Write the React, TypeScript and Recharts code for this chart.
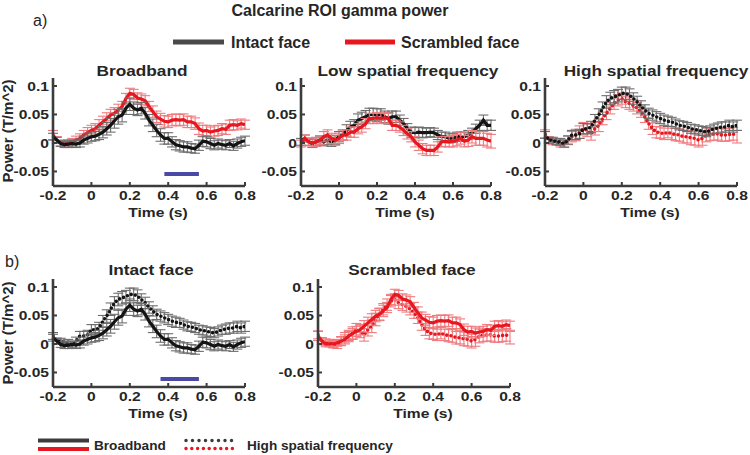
import React from 'react';
import { ComposedChart, Line, XAxis, YAxis, ErrorBar, ReferenceArea } from 'recharts';

const FONT = '"Liberation Sans", Arial, Helvetica, sans-serif';
const TXT = '#262626';
const BLACK = '#141414';
const GRAYERR = '#6e6e6e';
const RED = '#e8161f';
const REDERR = '#f07a7e';
const BLUE = '#4a4aa6';

const times = [-0.2,-0.18,-0.16,-0.14,-0.12,-0.1,-0.08,-0.06,-0.04,-0.02,0,0.02,0.04,0.06,0.08,0.1,0.12,0.14,0.16,0.18,0.2,0.22,0.24,0.26,0.28,0.3,0.32,0.34,0.36,0.38,0.4,0.42,0.44,0.46,0.48,0.5,0.52,0.54,0.56,0.58,0.6,0.62,0.64,0.66,0.68,0.7,0.72,0.74,0.76,0.78,0.8];

const broadbandIntact = [0.011,0.005,-0.001,-0.003,-0.002,-0.001,-0.002,0,0.005,0.008, 0.011,0.012,0.015,0.019,0.025,0.031,0.039,0.046,0.049,0.061, 0.068,0.061,0.058,0.061,0.052,0.04,0.031,0.022,0.014,0.008, 0.008,0.002,-0.003,-0.005,-0.007,-0.007,-0.009,-0.01,-0.004,0.003, 0.002,-0.001,-0.004,-0.001,-0.003,-0.004,-0.001,-0.005,-0.001,0.002,0.004];
const broadbandIntactErr = [0.006,0.005,0.005,0.005,0.006,0.006,0.006,0.007,0.007,0.008, 0.008,0.008,0.009,0.010,0.011,0.012,0.013,0.013,0.012,0.011, 0.011,0.011,0.010,0.010,0.010,0.010,0.011,0.011,0.011,0.010, 0.010,0.009,0.009,0.009,0.009,0.009,0.008,0.008,0.009,0.009, 0.009,0.009,0.008,0.008,0.008,0.008,0.007,0.008,0.008,0.008,0.008];
const broadbandScr = [0.014,0.005,0,0,0,0.002,0.005,0.008,0.014,0.018, 0.022,0.025,0.031,0.037,0.043,0.049,0.052,0.058,0.064,0.078, 0.087,0.085,0.079,0.077,0.074,0.064,0.055,0.046,0.042,0.038, 0.037,0.040,0.041,0.040,0.041,0.037,0.037,0.034,0.025,0.021, 0.022,0.019,0.021,0.022,0.025,0.024,0.031,0.032,0.031,0.034,0.032];
const broadbandScrErr = [0.008,0.006,0.005,0.005,0.006,0.006,0.007,0.008,0.008,0.009, 0.009,0.009,0.010,0.010,0.010,0.010,0.010,0.010,0.009,0.009, 0.009,0.009,0.009,0.009,0.009,0.009,0.010,0.010,0.010,0.010, 0.010,0.010,0.010,0.010,0.010,0.010,0.010,0.010,0.010,0.010, 0.009,0.009,0.009,0.009,0.009,0.009,0.009,0.009,0.008,0.008,0.008];

const lowIntact = [0.002,0.008,0.002,-0.001,0.002,0.005,0.002,0.005,0.002,0.005, 0.011,0.014,0.022,0.028,0.031,0.04,0.043,0.046,0.05,0.05, 0.049,0.05,0.046,0.043,0.046,0.046,0.04,0.034,0.025,0.019, 0.018,0.019,0.018,0.018,0.019,0.018,0.014,0.011,0.011,0.008, 0.009,0.011,0.011,0.011,0.014,0.018,0.025,0.031,0.04,0.031,0.031];
const lowIntactErr = [0.006,0.006,0.006,0.007,0.007,0.007,0.007,0.008,0.008,0.008, 0.009,0.009,0.010,0.010,0.010,0.011,0.011,0.011,0.011,0.011, 0.011,0.010,0.010,0.010,0.010,0.010,0.009,0.009,0.009,0.009, 0.009,0.009,0.009,0.008,0.008,0.008,0.008,0.008,0.008,0.008, 0.008,0.008,0.008,0.008,0.008,0.008,0.008,0.009,0.009,0.009,0.009];
const lowScr = [-0.001,0.008,0.002,0,0.002,0.005,0.011,0.014,0.008,0.005, 0.008,0.014,0.014,0.019,0.019,0.025,0.028,0.034,0.043,0.043, 0.044,0.043,0.044,0.043,0.031,0.031,0.028,0.022,0.016,0.011, 0.002,-0.004,-0.01,-0.013,-0.013,-0.013,-0.007,0.002,0.003,0.002, 0.003,0.005,0.008,0.003,0.005,0.011,0.008,0.008,0.008,0.005,0.003];
const lowScrErr = [0.006,0.006,0.007,0.007,0.008,0.008,0.009,0.009,0.009,0.009, 0.009,0.009,0.009,0.009,0.009,0.009,0.009,0.009,0.009,0.009, 0.009,0.009,0.009,0.009,0.009,0.009,0.009,0.009,0.009,0.009, 0.009,0.009,0.009,0.009,0.009,0.009,0.009,0.009,0.009,0.009, 0.010,0.010,0.010,0.010,0.011,0.011,0.012,0.012,0.012,0.012,0.012];

const highIntact = [0.014,0.005,0.005,0.002,0.002,-0.001,0.005,0.014,0.014,0.016, 0.025,0.025,0.028,0.04,0.049,0.061,0.072,0.078,0.081,0.083, 0.087,0.087,0.084,0.078,0.072,0.064,0.058,0.052,0.049,0.046, 0.043,0.040,0.038,0.037,0.034,0.031,0.030,0.028,0.025,0.024, 0.022,0.021,0.019,0.022,0.025,0.026,0.028,0.028,0.031,0.028,0.031];
const highIntactErr = [0.006,0.005,0.005,0.005,0.006,0.006,0.007,0.008,0.008,0.008, 0.009,0.009,0.010,0.010,0.011,0.011,0.011,0.011,0.011,0.011, 0.011,0.011,0.011,0.010,0.010,0.010,0.009,0.009,0.009,0.009, 0.009,0.009,0.009,0.008,0.008,0.008,0.008,0.008,0.008,0.008, 0.008,0.008,0.008,0.008,0.008,0.009,0.009,0.009,0.009,0.009,0.009];
const highScr = [0.016,0.005,0.003,0.002,-0.001,-0.001,0.005,0.011,0.014,0.019, 0.025,0.022,0.016,0.025,0.031,0.043,0.052,0.061,0.069,0.075, 0.078,0.072,0.069,0.066,0.061,0.055,0.046,0.034,0.025,0.019, 0.018,0.016,0.019,0.016,0.015,0.014,0.011,0.011,0.009,0.008, 0.005,0.008,0.014,0.015,0.016,0.016,0.014,0.014,0.015,0.016,0.011];
const highScrErr = [0.007,0.006,0.006,0.006,0.006,0.007,0.008,0.009,0.010,0.011, 0.011,0.011,0.011,0.011,0.011,0.011,0.011,0.010,0.010,0.010, 0.010,0.010,0.010,0.010,0.010,0.010,0.010,0.010,0.010,0.010, 0.010,0.010,0.010,0.010,0.011,0.011,0.011,0.011,0.012,0.012, 0.012,0.012,0.012,0.011,0.011,0.011,0.011,0.011,0.011,0.011,0.011];

const xTicks = [-0.2, 0, 0.2, 0.4, 0.6, 0.8];
const yTicks = [-0.05, 0, 0.05, 0.1];
const signifA = [0.38, 0.56];
const signifB = [0.36, 0.56];

const data = times.map((t, i) => ({
  t,
  bbI: broadbandIntact[i], bbIe: broadbandIntactErr[i],
  bbS: broadbandScr[i], bbSe: broadbandScrErr[i],
  lsfI: lowIntact[i], lsfIe: lowIntactErr[i],
  lsfS: lowScr[i], lsfSe: lowScrErr[i],
  hsfI: highIntact[i], hsfIe: highIntactErr[i],
  hsfS: highScr[i], hsfSe: highScrErr[i],
}));

const YDOM = [-0.0755, 0.114];
const PLOT_H = 108;
const SX = 1.2;

const XTick = (props: any) => {
  const { x, y, payload } = props;
  return (
    <text transform={`translate(${x},${y + 10}) scale(${SX},1)`} textAnchor="middle" fontSize={13} fontWeight="bold" fill={TXT} fontFamily={FONT}>
      {String(payload.value)}
    </text>
  );
};
const YTick = (props: any) => {
  const { x, y, payload } = props;
  return (
    <text transform={`translate(${x},${y + 4.6}) scale(${SX},1)`} textAnchor="end" fontSize={13} fontWeight="bold" fill={TXT} fontFamily={FONT}>
      {String(payload.value)}
    </text>
  );
};

function Panel({ left, top, width, children }: any) {
  const svgW = width + 70;
  const svgH = PLOT_H + 40;
  return (
    <div style={{ position: 'absolute', left: left - 50, top: top - 10 }}>
      <ComposedChart width={svgW} height={svgH} data={data} margin={{ top: 10, right: 20, bottom: 0, left: 0 }}>
        <XAxis dataKey="t" type="number" domain={[-0.2, 0.8]} ticks={xTicks} height={30}
          axisLine={{ stroke: '#3c3c3c', strokeWidth: 2.6 }} tickLine={{ stroke: '#3c3c3c', strokeWidth: 2 }}
          tickSize={-4} tickMargin={8} tick={<XTick />} interval={0} allowDataOverflow />
        <YAxis type="number" domain={YDOM} ticks={yTicks} width={50}
          axisLine={{ stroke: '#3c3c3c', strokeWidth: 2.6 }} tickLine={{ stroke: '#3c3c3c', strokeWidth: 2 }}
          tickSize={-4} tickMargin={8} tick={<YTick />} interval={0} allowDataOverflow />
        {children}
      </ComposedChart>
    </div>
  );
}

const solid = (key: string, color: string, errColor: string) => (
  <Line key={key} type="linear" dataKey={key} stroke={color} strokeWidth={3.2} dot={false} isAnimationActive={false}>
    <ErrorBar dataKey={key + 'e'} width={5} stroke={errColor} strokeWidth={1.1} />
  </Line>
);
const dotted = (key: string, color: string, errColor: string) => (
  <Line key={key} type="linear" dataKey={key} stroke={color} strokeWidth={3.6} strokeDasharray="0 4.2" strokeLinecap="round" dot={false} isAnimationActive={false}>
    <ErrorBar dataKey={key + 'e'} width={5} stroke={errColor} strokeWidth={1.1} />
  </Line>
);

const SText = ({ x, y, size, children, anchor = 'middle', sx = SX, weight = 'bold', rotate = 0 }: any) => (
  <text transform={`translate(${x},${y})${rotate ? ` rotate(${rotate})` : ''} scale(${rotate ? 1 : sx},${rotate ? sx : 1})`}
    textAnchor={anchor} fontSize={size} fontWeight={weight} fill={TXT} fontFamily={FONT}>
    {children}
  </text>
);

export default function App() {
  return (
    <div style={{ position: 'absolute', left: 0, top: 0, width: 750, height: 455, background: '#fff', overflow: 'hidden' }}>
      <Panel left={53} top={78} width={192}>
        {solid('bbS', RED, REDERR)}
        {solid('bbI', BLACK, GRAYERR)}
        <ReferenceArea x1={signifA[0]} x2={signifA[1]} y1={-0.058} y2={-0.051} fill={BLUE} fillOpacity={1} stroke="none" />
      </Panel>
      <Panel left={301} top={78} width={190}>
        {solid('lsfI', BLACK, GRAYERR)}
        {solid('lsfS', RED, REDERR)}
      </Panel>
      <Panel left={545} top={78} width={192}>
        {dotted('hsfS', RED, REDERR)}
        {dotted('hsfI', BLACK, GRAYERR)}
      </Panel>
      <Panel left={53} top={279} width={192}>
        {dotted('hsfI', BLACK, GRAYERR)}
        {solid('bbI', BLACK, GRAYERR)}
        <ReferenceArea x1={signifB[0]} x2={signifB[1]} y1={-0.065} y2={-0.058} fill={BLUE} fillOpacity={1} stroke="none" />
      </Panel>
      <Panel left={318} top={279} width={192}>
        {dotted('hsfS', RED, REDERR)}
        {solid('bbS', RED, REDERR)}
      </Panel>

      <svg width={750} height={455} style={{ position: 'absolute', left: 0, top: 0, pointerEvents: 'none' }}>
        <text x={340} y={16} textAnchor="middle" fontSize={16} fontWeight="bold" fill={TXT} fontFamily={FONT}>Calcarine ROI gamma power</text>
        <text x={33} y={26} fontSize={16} fill={TXT} fontFamily={FONT}>a)</text>
        <text x={5} y={267} fontSize={16} fill={TXT} fontFamily={FONT}>b)</text>
        <rect x={173} y={39.5} width={51} height={5} fill="#4a4a4a" />
        <text x={231} y={48} fontSize={16} fontWeight="bold" fill={TXT} fontFamily={FONT}>Intact face</text>
        <rect x={345} y={39.5} width={50} height={5} fill={RED} />
        <text x={401} y={48} fontSize={16} fontWeight="bold" fill={TXT} fontFamily={FONT}>Scrambled face</text>

        <SText x={142} y={76} size={14} sx={1.23}>Broadband</SText>
        <SText x={408} y={76} size={14} sx={1.23}>Low spatial frequency</SText>
        <SText x={656} y={76} size={14} sx={1.23}>High spatial frequency</SText>
        <SText x={151} y={275} size={14} sx={1.23}>Intact face</SText>
        <SText x={412} y={275} size={14} sx={1.23}>Scrambled face</SText>

        <SText x={158} y={217} size={13}>Time (s)</SText>
        <SText x={405} y={217} size={13}>Time (s)</SText>
        <SText x={650} y={217} size={13}>Time (s)</SText>
        <SText x={158} y={418} size={13}>Time (s)</SText>
        <SText x={423} y={418} size={13}>Time (s)</SText>

        <SText x={13} y={131} size={15} rotate={-90} sx={1}>Power (T/m^2)</SText>
        <SText x={13} y={333} size={15} rotate={-90} sx={1}>Power (T/m^2)</SText>

        <rect x={38} y={438.5} width={51} height={4} fill="#3c3c3c" />
        <rect x={38} y={447} width={51} height={4} fill={RED} />
        <text x={94} y={450} fontSize={13.6} fontWeight="bold" fill={TXT} fontFamily={FONT}>Broadband</text>
        <line x1={186} y1={440.5} x2={238} y2={440.5} stroke="#3c3c3c" strokeWidth={3.5} strokeLinecap="round" strokeDasharray="0 6.5" />
        <line x1={186} y1={448.5} x2={238} y2={448.5} stroke={RED} strokeWidth={3.5} strokeLinecap="round" strokeDasharray="0 5.8" />
        <text x={247} y={450} fontSize={13.6} fontWeight="bold" fill={TXT} fontFamily={FONT}>High spatial frequency</text>
      </svg>
    </div>
  );
}
